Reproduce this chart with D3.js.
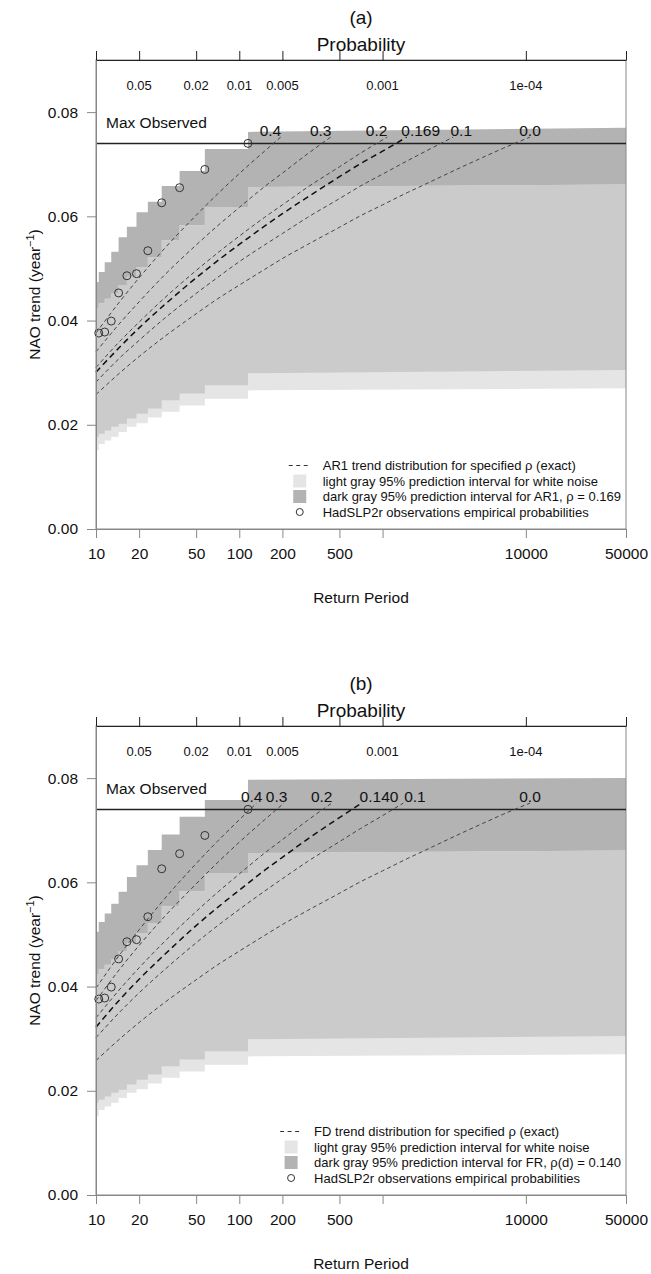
<!DOCTYPE html>
<html>
<head>
<meta charset="utf-8" />
<title>NAO trend return periods</title>
<script src="https://d3js.org/d3.v7.min.js"></script>
<style>
    body { margin: 0px; background: #fff; }
    svg text { font-family: "Liberation Sans", Arial, Helvetica, sans-serif; fill: #111; }
</style>
</head>
<body>
<svg id="chart"></svg>
<script>

// ranked HadSLP2r trends: return period N/k and trend value
var obsPeriod = [115, 57.5, 38.33, 28.75, 23, 19.17, 16.43, 14.38, 12.78, 11.5, 10.45];
var obsTrend = [0.0740, 0.0690, 0.0655, 0.0626, 0.0534, 0.0490, 0.0486, 0.0453, 0.0399, 0.0378, 0.0376];
var maxObserved = 0.0740;

// prediction interval steps (one level per step, last value sits at 50000)
var stepPeriod = [10, 10.45, 11.5, 12.78, 14.38, 16.43, 19.17, 23, 28.75, 38.33, 57.5, 115, 50000];
var wnLower  = [0.0151, 0.0163, 0.0170, 0.0177, 0.0186, 0.0196, 0.0203, 0.0214, 0.0225, 0.0237, 0.0250, 0.0266, 0.0270];
var wnUpper  = [0.0423, 0.0433, 0.0442, 0.0452, 0.0468, 0.0484, 0.0503, 0.0522, 0.0554, 0.0583, 0.0618, 0.0656, 0.0661];
var ar1Lower = [0.0177, 0.0183, 0.0189, 0.0196, 0.0202, 0.0212, 0.0221, 0.0231, 0.0247, 0.0260, 0.0276, 0.0299, 0.0305];
var ar1Upper = [0.0474, 0.0493, 0.0512, 0.0532, 0.0560, 0.0580, 0.0608, 0.0628, 0.0658, 0.0687, 0.0729, 0.0762, 0.0770];
var frLower  = [0.0177, 0.0183, 0.0189, 0.0196, 0.0202, 0.0212, 0.0221, 0.0231, 0.0247, 0.0260, 0.0276, 0.0299, 0.0305];
var frUpper  = [0.0505, 0.0524, 0.0540, 0.0559, 0.0582, 0.0610, 0.0633, 0.0662, 0.0692, 0.0726, 0.0758, 0.0797, 0.0800];

// AR1 trend distribution curves (panel a): [return period, trend]
var ar1Rho40 = [[10,0.0376],[15,0.0440],[20,0.0482],[30,0.0538],[50,0.0602],[70,0.0642],[100,0.0682],[150,0.0725],[194.5,0.0752]];
var ar1Rho30 = [[10,0.0340],[15,0.0398],[20,0.0436],[30,0.0487],[50,0.0545],[70,0.0581],[100,0.0617],[150,0.0657],[200,0.0683],[300,0.0720],[434.5,0.0752]];
var ar1Rho20 = [[10,0.0310],[15,0.0363],[20,0.0397],[30,0.0443],[50,0.0496],[70,0.0529],[100,0.0562],[150,0.0598],[200,0.0622],[300,0.0656],[500,0.0695],[700,0.0721],[1079,0.0752]];
var ar1Rho169 = [[10,0.0301],[15,0.0352],[20,0.0386],[30,0.0430],[50,0.0482],[70,0.0514],[100,0.0546],[150,0.0581],[200,0.0605],[300,0.0637],[500,0.0676],[700,0.0701],[1000,0.0725],[1472,0.0752]];
var ar1Rho10 = [[10,0.0282],[15,0.0331],[20,0.0362],[30,0.0404],[50,0.0452],[70,0.0482],[100,0.0513],[150,0.0545],[200,0.0567],[300,0.0598],[500,0.0634],[700,0.0658],[1000,0.0681],[1500,0.0707],[2000,0.0725],[3112,0.0752]];
var rho00 = [[10,0.0258],[15,0.0302],[20,0.0331],[30,0.0369],[50,0.0413],[70,0.0441],[100,0.0468],[150,0.0498],[200,0.0519],[300,0.0546],[500,0.0579],[700,0.0601],[1000,0.0622],[1500,0.0646],[2000,0.0662],[3000,0.0685],[5000,0.0713],[7000,0.0731],[10690,0.0752]];

// FD trend distribution curves (panel b)
var fdRho40 = [[10,0.0397],[15,0.0465],[20,0.0509],[30,0.0568],[50,0.0636],[70,0.0678],[100,0.0720],[132.2,0.0752]];
var fdRho30 = [[10,0.0373],[15,0.0437],[20,0.0479],[30,0.0534],[50,0.0597],[70,0.0637],[100,0.0677],[150,0.0720],[205.1,0.0752]];
var fdRho20 = [[10,0.0340],[15,0.0398],[20,0.0436],[30,0.0486],[50,0.0544],[70,0.0580],[100,0.0616],[150,0.0656],[200,0.0682],[300,0.0719],[441.6,0.0752]];
var fdRho14 = [[10,0.0322],[15,0.0378],[20,0.0414],[30,0.0461],[50,0.0517],[70,0.0551],[100,0.0585],[150,0.0623],[200,0.0648],[300,0.0683],[500,0.0724],[714.5,0.0752]];
var fdRho10 = [[10,0.0302],[15,0.0354],[20,0.0388],[30,0.0432],[50,0.0484],[70,0.0516],[100,0.0548],[150,0.0583],[200,0.0607],[300,0.0640],[500,0.0678],[700,0.0703],[1000,0.0728],[1395,0.0752]];

// curve labels and the return period where each label is centred
var labelsA = ["0.4", "0.3", "0.2", "0.169", "0.1", "0.0"];
var labelAtA = [165, 370, 909, 1845, 3541, 10690];
var labelsB = ["0.4", "0.3", "0.2", "0.140", "0.1", "0.0"];
var labelAtB = [122, 182, 376, 944, 1683, 10690];

// axes
var yTicks = [0, 0.02, 0.04, 0.06, 0.08];
var xTicks = [10, 20, 50, 100, 200, 500, 1000, 10000, 50000];
var xTickLabels = ["10", "20", "50", "100", "200", "500", "", "10000", "50000"];
var probAt = [20, 50, 100, 200, 1000, 10000];
var probLabels = ["0.05", "0.02", "0.01", "0.005", "0.001", "1e-04"];

var width = 651, height = 1274;
var left = 96, right = 626, plotH = 469;

var colLight = "#e5e5e5", colMid = "#cbcbcb", colDark = "#b3b3b3";

var svg = d3.select("#chart").attr("width", width).attr("height", height);

var x = d3.scaleLog().domain([10, 50000]).range([left, right]);

var panels = [
    {tag: "(a)", top: 60, upper: ar1Upper, lower: ar1Lower,
     curves: [ar1Rho40, ar1Rho30, ar1Rho20, ar1Rho169, ar1Rho10, rho00], bold: 3,
     labels: labelsA, labelAt: labelAtA,
     legend: ["AR1 trend distribution for specified \u03C1 (exact)",
              "light gray 95% prediction interval for white noise",
              "dark gray 95% prediction interval for AR1, \u03C1 = 0.169",
              "HadSLP2r observations empirical probabilities"]},
    {tag: "(b)", top: 726, upper: frUpper, lower: frLower,
     curves: [fdRho40, fdRho30, fdRho20, fdRho14, fdRho10, rho00], bold: 3,
     labels: labelsB, labelAt: labelAtB,
     legend: ["FD trend distribution for specified \u03C1 (exact)",
              "light gray 95% prediction interval for white noise",
              "dark gray 95% prediction interval for FR, \u03C1(d) = 0.140",
              "HadSLP2r observations empirical probabilities"]}
];

function steps(lo, hi) {
    var pts = [];
    for (var i = 0; i < stepPeriod.length - 1; i++) {
        pts.push({p: stepPeriod[i], lo: lo[i], hi: hi[i]});
        if (i < stepPeriod.length - 2) {
            pts.push({p: stepPeriod[i + 1], lo: lo[i], hi: hi[i]});
        } else {
            pts.push({p: stepPeriod[i + 1], lo: lo[i + 1], hi: hi[i + 1]});
        }
    }
    return pts;
}

panels.forEach(function(P) {
    var top = P.top, bottom = top + plotH;
    var y = d3.scaleLinear().domain([0, 0.09]).range([bottom, top]);
    var g = svg.append("g");

    var area = d3.area()
        .x(function(d) { return x(d.p); })
        .y0(function(d) { return y(d.lo); })
        .y1(function(d) { return y(d.hi); });

    var overlapLo = P.lower.map(function(v, i) { return Math.max(v, wnLower[i]); });
    var overlapHi = P.upper.map(function(v, i) { return Math.min(v, wnUpper[i]); });

    g.append("path").attr("d", area(steps(P.lower, P.upper))).attr("fill", colDark);
    g.append("path").attr("d", area(steps(wnLower, wnUpper))).attr("fill", colLight);
    g.append("path").attr("d", area(steps(overlapLo, overlapHi))).attr("fill", colMid);

    // box
    g.append("rect").attr("x", left).attr("y", top).attr("width", right - left).attr("height", plotH)
        .attr("fill", "none").attr("stroke", "#888").attr("stroke-width", 1);

    // max observed
    g.append("line").attr("x1", left).attr("x2", right)
        .attr("y1", y(maxObserved)).attr("y2", y(maxObserved))
        .attr("stroke", "#222").attr("stroke-width", 1.5);
    g.append("text").attr("x", left + 10).attr("y", top + 68)
        .attr("font-size", 15.5).text("Max Observed");

    // distribution curves
    var line = d3.line()
        .x(function(d) { return x(d[0]); })
        .y(function(d) { return y(d[1]); })
        .curve(d3.curveMonotoneX);

    P.curves.forEach(function(c, i) {
        var bold = i === P.bold;
        g.append("path").attr("d", line(c))
            .attr("fill", "none")
            .attr("stroke", bold ? "#111" : "#444")
            .attr("stroke-width", bold ? 1.5 : 1)
            .attr("stroke-dasharray", bold ? "6,4" : "4,3");
        var end = c[c.length - 1];
        g.append("text").attr("x", x(P.labelAt[i])).attr("y", y(end[1]) - 1)
            .attr("text-anchor", "middle").attr("font-size", 15.5).text(P.labels[i]);
    });

    // observations
    g.selectAll(".obs").data(obsPeriod).enter().append("circle")
        .attr("cx", function(d) { return x(d); })
        .attr("cy", function(d, i) { return y(obsTrend[i]); })
        .attr("r", 4).attr("fill", "none").attr("stroke", "#333").attr("stroke-width", 1);

    // left axis
    var yAxis = d3.axisLeft(y).tickValues(yTicks).tickFormat(d3.format(".2f"))
        .tickSize(9).tickSizeOuter(0).tickPadding(9);
    var ya = g.append("g").attr("transform", "translate(" + left + ",0)").call(yAxis);
    ya.selectAll("text").attr("font-size", 15.5).attr("fill", "#111");
    ya.selectAll("line, path").attr("stroke", "#888");

    // bottom axis
    var xAxis = d3.axisBottom(x).tickValues(xTicks)
        .tickFormat(function(d, i) { return xTickLabels[i]; })
        .tickSize(9).tickSizeOuter(0).tickPadding(10);
    var xa = g.append("g").attr("transform", "translate(0," + bottom + ")").call(xAxis);
    xa.selectAll("text").attr("font-size", 15.5).attr("fill", "#111");
    xa.selectAll("line, path").attr("stroke", "#888");

    // top axis (probability)
    var tAxis = d3.axisTop(x).tickValues(xTicks).tickFormat("").tickSize(9).tickSizeOuter(0);
    var ta = g.append("g").attr("transform", "translate(0," + top + ")").call(tAxis);
    ta.selectAll("line, path").attr("stroke", "#222");

    g.selectAll(".prob").data(probAt).enter().append("text")
        .attr("x", function(d) { return x(d); })
        .attr("y", top + 30)
        .attr("text-anchor", "middle").attr("font-size", 13)
        .text(function(d, i) { return probLabels[i]; });

    // titles
    g.append("text").attr("x", (left + right) / 2).attr("y", top - 36)
        .attr("text-anchor", "middle").attr("font-size", 19).text(P.tag);
    g.append("text").attr("x", (left + right) / 2).attr("y", top - 9)
        .attr("text-anchor", "middle").attr("font-size", 19).text("Probability");
    g.append("text").attr("x", (left + right) / 2).attr("y", bottom + 74)
        .attr("text-anchor", "middle").attr("font-size", 15.5).text("Return Period");

    var yl = g.append("text")
        .attr("transform", "translate(40," + (top + plotH / 2) + ") rotate(-90)")
        .attr("text-anchor", "middle").attr("font-size", 15.5);
    yl.append("tspan").text("NAO trend (year");
    yl.append("tspan").attr("baseline-shift", "super").attr("font-size", 11).text("\u22121");
    yl.append("tspan").text(")");

    // legend, right aligned inside the box
    var lg = g.append("g");
    var texts = lg.selectAll("text").data(P.legend).enter().append("text")
        .attr("y", function(d, i) { return top + 410 + i * 15.5; })
        .attr("font-size", 13)
        .text(function(d) { return d; });
    var maxW = d3.max(texts.nodes(), function(n) { return n.getComputedTextLength(); });
    var tx = 621 - maxW;
    texts.attr("x", tx);
    var cx = tx - 23;
    var rowY = function(i) { return top + 405.5 + i * 15.5; };
    lg.append("line").attr("x1", cx - 11).attr("x2", cx + 11)
        .attr("y1", rowY(0)).attr("y2", rowY(0))
        .attr("stroke", "#333").attr("stroke-dasharray", "4,3.5");
    lg.append("rect").attr("x", cx - 6.5).attr("y", rowY(1) - 6.5).attr("width", 13).attr("height", 13)
        .attr("fill", colLight);
    lg.append("rect").attr("x", cx - 6.5).attr("y", rowY(2) - 6.5).attr("width", 13).attr("height", 13)
        .attr("fill", colDark);
    lg.append("circle").attr("cx", cx).attr("cy", rowY(3)).attr("r", 3.5)
        .attr("fill", "none").attr("stroke", "#333");
});

</script>
</body>
</html>
